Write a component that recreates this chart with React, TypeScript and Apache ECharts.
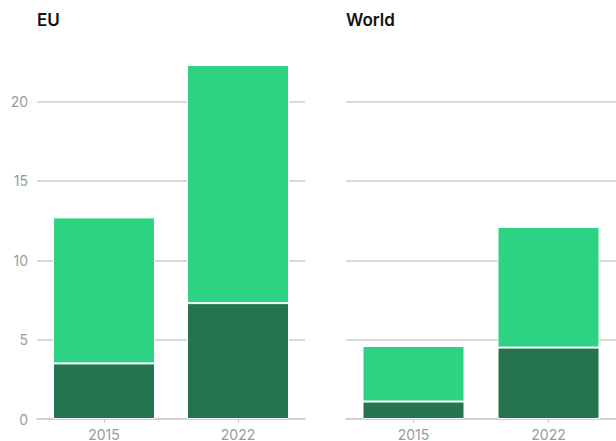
import React, { useEffect, useRef } from "react";
import * as echarts from "echarts";

const years = ["2015", "2022"];
const euBase = [3.5, 7.3];
const euTop = [9.2, 15.0];
const worldBase = [1.1, 4.5];
const worldTop = [3.5, 7.6];
const panelTitles = ["EU", "World"];

const LIGHT = "#2ed283";
const DARK = "#24754f";
const GRID = "#cccccc";
const LABEL = "#9a9a9a";
const FONT = "Inter, 'Noto Sans', sans-serif";

export default function App() {
  const ref = useRef<HTMLDivElement>(null);
  useEffect(() => {
    if (!ref.current) return;
    const chart = echarts.init(ref.current, undefined, { renderer: "svg" });
    const yAxisBase = (showLabels: boolean, gi: number) => ({
      type: "value",
      gridIndex: gi,
      min: 0,
      max: 24,
      interval: 5,
      axisLine: { show: false },
      axisTick: { show: false },
      axisLabel: {
        show: showLabels,
        showMaxLabel: false,
        color: LABEL,
        fontSize: 14,
        fontFamily: FONT,
        margin: 9,
      },
      splitLine: {
        show: true,
        lineStyle: { color: [GRID, GRID, GRID, GRID, GRID, "rgba(0,0,0,0)"], width: 1.5 },
      },
    });
    const xAxisBase = (gi: number) => ({
      type: "category",
      gridIndex: gi,
      data: years,
      axisLine: { show: true, lineStyle: { color: GRID, width: 1.5 } },
      axisTick: { show: true, alignWithLabel: true, length: 4, lineStyle: { color: GRID } },
      axisLabel: { color: LABEL, fontSize: 14, fontFamily: FONT, margin: 8 },
    });
    const barStyle = (color: string) => ({
      color,
      borderColor: "#ffffff",
      borderWidth: 1,
    });
    chart.setOption({
      animation: false,
      title: [
        { text: panelTitles[0], left: 32, top: 6, textStyle: { fontSize: 17, fontWeight: 600, color: "#111", fontFamily: FONT } },
        { text: panelTitles[1], left: 341, top: 6, textStyle: { fontSize: 17, fontWeight: 600, color: "#111", fontFamily: FONT } },
      ],
      grid: [
        { left: 37, right: 311, top: 38, bottom: 20, containLabel: false },
        { left: 346, right: 0, top: 38, bottom: 20, containLabel: false },
      ],
      xAxis: [xAxisBase(0), xAxisBase(1)],
      yAxis: [yAxisBase(true, 0), yAxisBase(false, 1)],
      series: [
        { type: "bar", xAxisIndex: 0, yAxisIndex: 0, stack: "eu", data: euBase, barWidth: 102, itemStyle: barStyle(DARK) },
        { type: "bar", xAxisIndex: 0, yAxisIndex: 0, stack: "eu", data: euTop, barWidth: 102, itemStyle: barStyle(LIGHT) },
        { type: "bar", xAxisIndex: 1, yAxisIndex: 1, stack: "w", data: worldBase, barWidth: 102, itemStyle: barStyle(DARK) },
        { type: "bar", xAxisIndex: 1, yAxisIndex: 1, stack: "w", data: worldTop, barWidth: 102, itemStyle: barStyle(LIGHT) },
      ],
    });
    return () => chart.dispose();
  }, []);
  return (
    <div
      ref={ref}
      style={{ position: "fixed", left: 0, top: 0, width: 616, height: 441, background: "#fff" }}
    />
  );
}
